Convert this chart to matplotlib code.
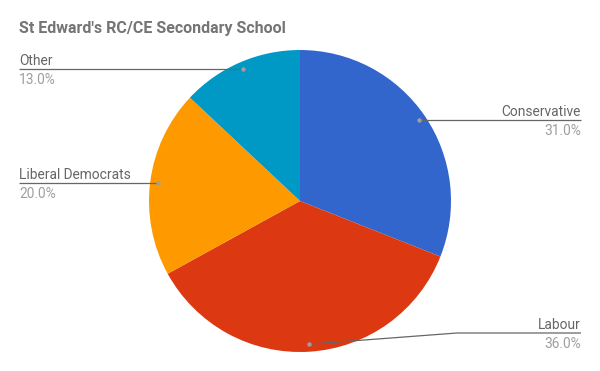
import numpy as np
import matplotlib.pyplot as plt

plt.rcParams['font.family'] = ['Roboto', 'DejaVu Sans']

# --- dados ---
partidos = ['Conservative', 'Labour', 'Liberal Democrats', 'Other']
percentuais = [31.0, 36.0, 20.0, 13.0]
cores = ['#3366cc', '#dc3912', '#ff9900', '#0099c6']

titulo = "St Edward's RC/CE Secondary School"

# --- layout (pixels, origem no canto superior esquerdo) ---
W, H = 600, 371
cx, cy, raio = 300, 201, 151

def py(y):
    return H - y

fig = plt.figure(figsize=(6.0, 3.71), dpi=100)
ax = fig.add_axes([0, 0, 1, 1])

fatias, _ = ax.pie(percentuais, colors=cores, startangle=90, counterclock=False,
                   center=(cx, py(cy)), radius=raio, frame=True,
                   wedgeprops=dict(linewidth=0))
ax.set_xlim(0, W)
ax.set_ylim(0, H)
ax.set_aspect('equal')
ax.axis('off')

fig.text(19 / W, 1 - 29 / H, titulo, fontsize=11.5, fontweight='bold',
         color='#757575', va='center', ha='left')

# posição dos rótulos: lado e altura da linha guia (px)
lado = {'Conservative': 'right', 'Labour': 'right',
        'Liberal Democrats': 'left', 'Other': 'left'}
linha_y = {'Labour': 333}
cotovelo_x = {'Labour': 457}

cor_linha = '#666666'
for w, nome, p in zip(fatias, partidos, percentuais):
    ang = np.deg2rad((w.theta1 + w.theta2) / 2)
    dx = cx + 0.95 * raio * np.cos(ang)
    dy = py(cy) + 0.95 * raio * np.sin(ang)
    ly = py(linha_y[nome]) if nome in linha_y else dy
    xfim = 581 if lado[nome] == 'right' else 19
    if nome in cotovelo_x:
        xs = [dx, cotovelo_x[nome], xfim]
        ys = [dy, ly, ly]
    else:
        xs = [dx, xfim]
        ys = [dy, ly]
    ax.plot(xs, ys, color=cor_linha, linewidth=0.9, solid_capstyle='butt', zorder=3)
    ax.plot(dx, dy, 'o', color='#9e9e9e', markersize=3.2, markeredgewidth=0, zorder=4)
    ha = 'right' if lado[nome] == 'right' else 'left'
    ax.text(xfim, ly + 4, nome, ha=ha, va='baseline', fontsize=9.9, color='#666666')
    ax.text(xfim, ly - 15, f'{p:.1f}%', ha=ha, va='baseline', fontsize=9.9, color='#9e9e9e')

fig.savefig('out.png', dpi=100)
